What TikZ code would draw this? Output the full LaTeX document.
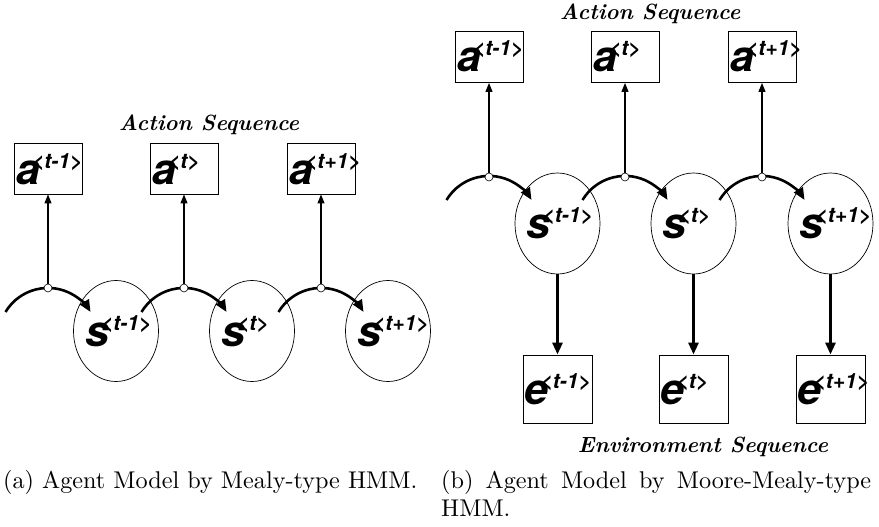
\documentclass[tikz,border=0pt]{standalone}
\usepackage{fontspec}
\newfontfamily\hv{TeX Gyre Heros}
\newfontfamily\cmten{lmroman10-regular.otf}
\newfontfamily\cmbi{lmroman10-bolditalic.otf}
\usetikzlibrary{arrows.meta,shapes.geometric}
\newcommand\seqlab[2]{{\hv\bfseries\itshape\fontsize{43}{43}\selectfont #1}\kern-8pt\raisebox{16pt}{\hv\bfseries\itshape\fontsize{21}{21}\selectfont <#2>}}
\tikzset{
  abox/.style={draw, line width=0.9pt, minimum width=68pt, minimum height=51pt, inner sep=0pt},
  ebox/.style={draw, line width=0.9pt, minimum width=69pt, minimum height=68pt, inner sep=0pt},
  stnode/.style={draw, ellipse, line width=0.7pt, minimum width=85pt, minimum height=101pt, inner sep=0pt},
  junc/.style={draw, circle, fill=white, line width=0.6pt, minimum size=8pt, inner sep=0pt},
  lab/.style={anchor=base west, inner sep=0pt},
  trans/.style={line width=2.6pt, -{Triangle[length=12pt,width=10pt]}},
  emit/.style={line width=1.2pt, -{Triangle[length=9pt,width=7pt]}},
  obs/.style={line width=2.8pt, -{Triangle[length=12pt,width=10pt]}},
  seqtitle/.style={font=\cmbi\fontsize{22}{26}\selectfont, anchor=base, inner sep=0pt},
  capt/.style={font=\cmten\fontsize{24.2}{29}\selectfont, anchor=base west, inner sep=0pt}
}
\begin{document}
\begin{tikzpicture}[x=1pt,y=1pt]
\useasboundingbox (0,0) rectangle (879,-527);
% ---------------- (a) ----------------
\node[seqtitle] (ta) at (209,-130) {Action Sequence};
\foreach \i/\jx/\sx/\t in {1/48/116/t-1, 2/184/252/t, 3/321/388/t+1}{
  \node[abox] (aa\i) at (\jx,-168.5) {};
  \node[lab] (aal\i) at (\jx-32,-184) {\seqlab{a}{\t}};
  \node[stnode] (sa\i) at (\sx,-331) {};
  \node[lab] (sal\i) at (\sx-31,-346) {\seqlab{s}{\t}};
  \coordinate (ca\i) at (\jx-42.5,-312);
  \draw[trans] (ca\i) arc[start angle=149, end angle=31, radius=49.6];
  \node[junc] (ja\i) at (\jx,-288) {};
  \draw[emit] (ja\i) -- (aa\i.south);
}
% ---------------- (b) ----------------
\node[seqtitle] (tb) at (650,-20) {Action Sequence};
\foreach \i/\jx/\sx/\t in {1/489/557.5/t-1, 2/625/693.5/t, 3/762/830.5/t+1}{
  \node[abox] (ab\i) at (\jx,-57) {};
  \node[lab] (abl\i) at (\jx-32,-72) {\seqlab{a}{\t}};
  \node[stnode] (sb\i) at (\sx,-223.5) {};
  \node[lab] (sbl\i) at (\sx-31,-238) {\seqlab{s}{\t}};
  \node[ebox] (eb\i) at (\sx,-389) {};
  \node[lab] (ebl\i) at (\sx-33,-404) {\seqlab{e}{\t}};
  \coordinate (cb\i) at (\jx-42.5,-200);
  \draw[trans] (cb\i) arc[start angle=149, end angle=31, radius=49.6];
  \node[junc] (jb\i) at (\jx,-177) {};
  \draw[emit] (jb\i) -- (ab\i.south);
  \draw[obs] (sb\i.south) -- (eb\i.north);
}
\node[seqtitle] (te) at (703,-452) {Environment Sequence};
% ---------------- captions ----------------
\node[capt] (capa) at (3,-488) {(a) Agent Model by Mealy-type HMM.};
\node[capt] (capb) at (441,-488) {\makebox[430pt][s]{(b) Agent Model by Moore-Mealy-type}};
\node[capt] (capb2) at (441,-516) {HMM.};
\end{tikzpicture}
\end{document}
